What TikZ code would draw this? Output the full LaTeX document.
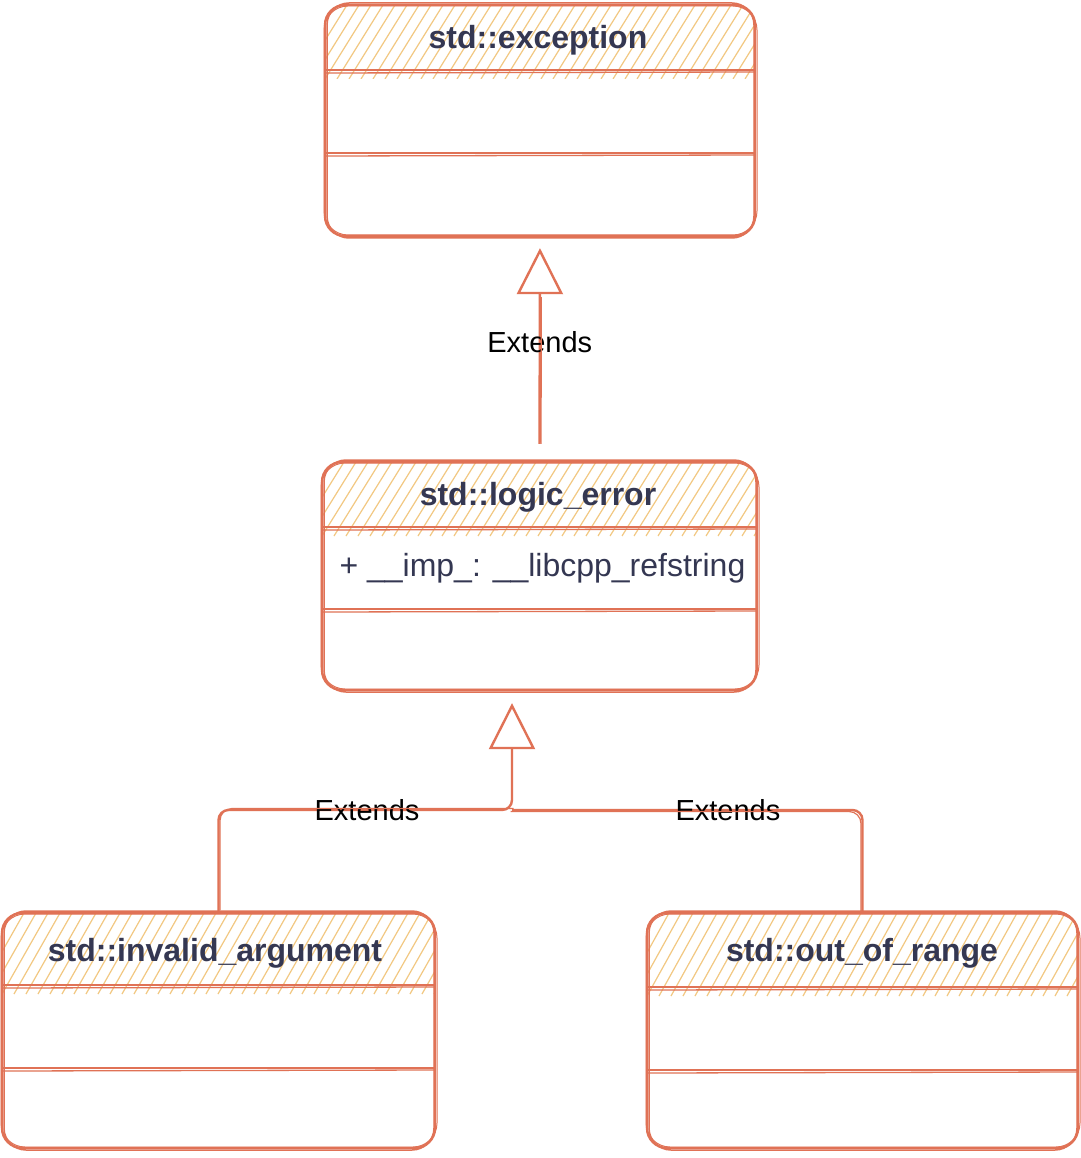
\documentclass[tikz,border=0pt]{standalone}
\usepackage{fontspec}
\setmainfont{Liberation Sans}
\usetikzlibrary{arrows.meta,calc}
\definecolor{strokec}{RGB}{224,114,86}
\definecolor{hachc}{RGB}{242,200,130}
\definecolor{txtc}{RGB}{52,55,82}
\tikzset{
  cls/.style={draw=strokec, line width=2.4pt, rounded corners=20pt, inner sep=0pt},
  skline/.style={draw=strokec, line width=1.5pt, rounded corners=22pt},
  sepline/.style={draw=strokec, line width=2.4pt},
  septhin/.style={draw=strokec, line width=1.3pt},
  titletext/.style={font=\bfseries\fontsize{32}{37}\selectfont, text=txtc},
  attrtext/.style={font=\fontsize{32}{38}\selectfont, text=txtc, anchor=west},
  lbltext/.style={font=\fontsize{29}{34}\selectfont, text=black},
  extline/.style={draw=strokec, line width=2.4pt, -{Triangle[open, length=46pt, width=46pt, line width=2.4pt]}},
  conn/.style={draw=strokec, line width=2.4pt},
  hachline/.style={draw=hachc, line width=1.2pt},
}
\newcommand\hachfill[4]{%
  \begin{scope}
    \clip[rounded corners=20pt] (#1,#3) rectangle (#2,#4+60);
    \clip (#1,#3) rectangle (#2,#4+9);
    \foreach \k in {0,...,46} {
      \pgfmathsetmacro\xx{#1-60+12*\k}
      \draw[hachline] (\xx,#4+9) -- ++(46,-#4-9+#3);
    }
  \end{scope}}
\newcommand\sketchbox[4]{%
  \draw[skline] (#1+2,#2-2) rectangle (#3-1,#4+2);
  \draw[skline, line width=1pt, rounded corners=24pt] (#1-1,#2+1) rectangle (#3+2,#4-1);}
\begin{document}
\begin{tikzpicture}[x=1pt, y=-1pt]
\useasboundingbox[fill=white] (0,0) rectangle (1080,1158);

% ---------- std::exception
\hachfill{325}{755}{5}{70}
\node[cls, minimum width=430pt, minimum height=231pt] (exc) at (540,120.5) {};
\sketchbox{325}{5}{755}{236}
\draw[sepline] (325,70) -- (755,70);
\draw[septhin] (326,73) -- (754,72);
\draw[sepline] (325,153) -- (755,153);
\draw[septhin] (326,156) -- (754,155);
\node[titletext] (exct) at (538,40) {std::exception};

% ---------- std::logic_error
\hachfill{322}{757}{462}{527}
\node[cls, minimum width=435pt, minimum height=228pt] (logic) at (539.5,576) {};
\sketchbox{322}{462}{757}{690}
\draw[sepline] (322,527) -- (757,527);
\draw[septhin] (323,530) -- (756,529);
\draw[sepline] (322,609) -- (757,609);
\draw[septhin] (323,612) -- (756,611);
\node[titletext] (logict) at (538,497) {std::logic\_error};
\node[attrtext] (logica) at (336,568) {+ \_\_imp\_: \_\_libcpp\_refstring};

% ---------- std::invalid_argument
\hachfill{2}{435}{913}{985}
\node[cls, minimum width=433pt, minimum height=235pt] (inv) at (218.5,1030.5) {};
\sketchbox{2}{913}{435}{1148}
\draw[sepline] (2,985) -- (435,985);
\draw[septhin] (3,988) -- (434,987);
\draw[sepline] (2,1068) -- (435,1068);
\draw[septhin] (3,1071) -- (434,1070);
\node[titletext] (invt) at (215,953) {std::invalid\_argument};

% ---------- std::out_of_range
\hachfill{647}{1078}{913}{987}
\node[cls, minimum width=431pt, minimum height=235pt] (oor) at (862.5,1030.5) {};
\sketchbox{647}{913}{1078}{1148}
\draw[sepline] (647,987) -- (1078,987);
\draw[septhin] (648,990) -- (1077,989);
\draw[sepline] (647,1070) -- (1078,1070);
\draw[septhin] (648,1073) -- (1077,1072);
\node[titletext] (oort) at (862,953) {std::out\_of\_range};

% ---------- connectors
\draw[extline, shorten <=17pt, shorten >=11pt] (logic.north) -- node[lbltext, pos=0.53] (e1) {Extends} (exc.south);
\draw[conn, line width=1.2pt, shorten <=17pt, shorten >=60pt, transform canvas={xshift=1.5pt}] (logic.north) -- (exc.south);

\coordinate (j) at (512,810);
\draw[extline, shorten >=12pt, rounded corners=10pt] (inv.north) |- node[lbltext, pos=0.753] (e2) {Extends} (j) -- (j |- logic.south);
\draw[conn, rounded corners=10pt] (oor.north) |- node[lbltext, pos=0.692] (e3) {Extends} (j);
\draw[conn, line width=1.2pt, rounded corners=12pt, transform canvas={shift={(1.5pt,1.5pt)}}] (inv.north) |- (j);
\draw[conn, line width=1.2pt, rounded corners=12pt, transform canvas={shift={(-1.5pt,-1.5pt)}}] (oor.north) |- (j);
\end{tikzpicture}
\end{document}
